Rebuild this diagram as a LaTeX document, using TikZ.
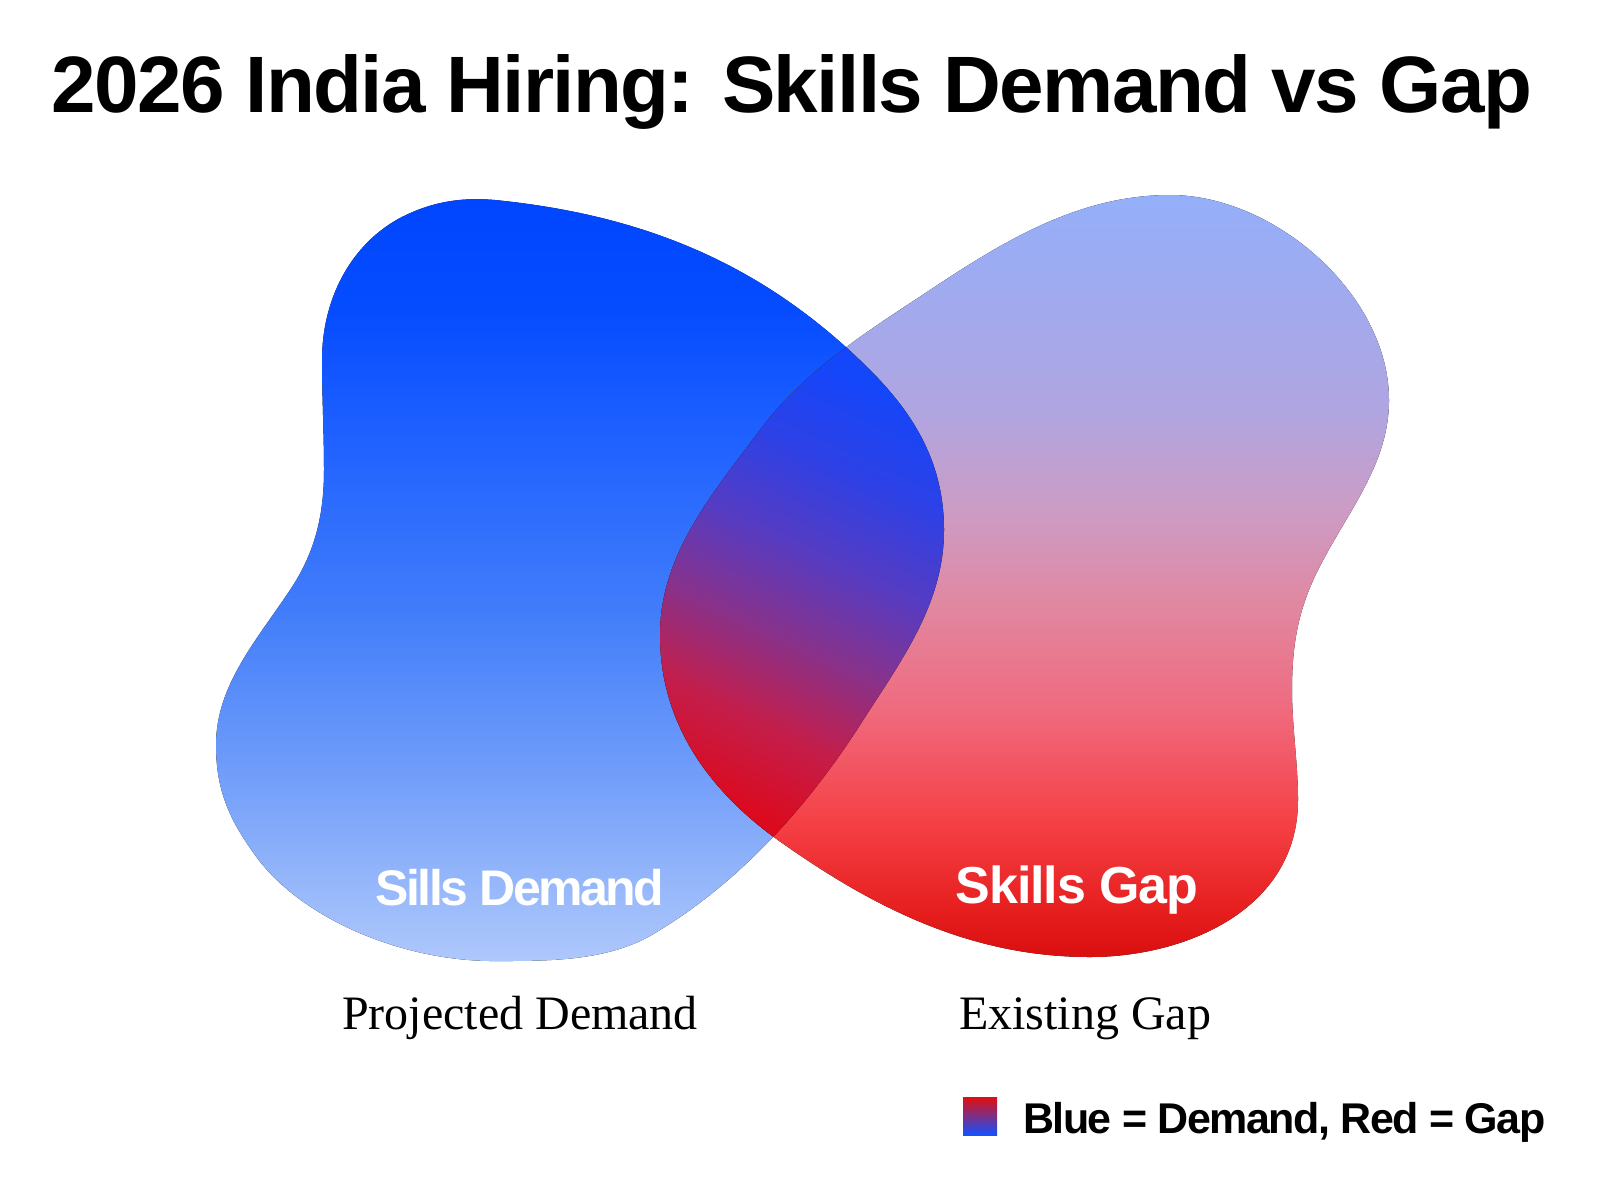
\documentclass[tikz,border=0pt]{standalone}
\usepackage{fontspec}
\setmainfont{Liberation Sans}
\newfontfamily\labelserif{Liberation Serif}
\usepackage{tikz}
\usetikzlibrary{positioning}

\definecolor{demtop}{RGB}{0,70,255}
\definecolor{demA}{RGB}{5,75,255}
\definecolor{demB}{RGB}{35,100,255}
\definecolor{demC}{RGB}{65,125,250}
\definecolor{demD}{RGB}{110,155,250}
\definecolor{demE}{RGB}{145,180,250}
\definecolor{dembot}{RGB}{175,200,252}
\definecolor{gaptop}{RGB}{148,175,250}
\definecolor{gapA}{RGB}{175,165,225}
\definecolor{gapB}{RGB}{205,155,195}
\definecolor{gapC}{RGB}{225,135,160}
\definecolor{gapD}{RGB}{240,105,125}
\definecolor{gapE}{RGB}{245,65,70}
\definecolor{gapF}{RGB}{230,30,30}
\definecolor{gapbot}{RGB}{218,15,15}
\definecolor{mixtop}{RGB}{20,70,250}
\definecolor{mixA}{RGB}{45,65,230}
\definecolor{mixB}{RGB}{85,60,195}
\definecolor{mixC}{RGB}{135,50,140}
\definecolor{mixD}{RGB}{195,30,75}
\definecolor{mixbot}{RGB}{220,10,30}
\definecolor{keyred}{RGB}{225,15,15}
\definecolor{keyblue}{RGB}{20,80,255}

\pgfdeclareverticalshading{demandshade}{100bp}{color(0bp)=(dembot); color(25bp)=(dembot);
  color(31bp)=(demE); color(38bp)=(demD); color(48bp)=(demC); color(58bp)=(demB);
  color(68bp)=(demA); color(75bp)=(demtop); color(100bp)=(demtop)}
\pgfdeclareverticalshading{gapshade}{100bp}{color(0bp)=(gapbot); color(25bp)=(gapbot);
  color(28bp)=(gapF); color(34bp)=(gapE); color(41bp)=(gapD); color(48bp)=(gapC);
  color(54bp)=(gapB); color(61bp)=(gapA); color(75bp)=(gaptop); color(100bp)=(gaptop)}
\pgfdeclareverticalshading{overlapshade}{100bp}{color(0bp)=(mixbot); color(25bp)=(mixbot);
  color(35bp)=(mixD); color(45bp)=(mixC); color(55bp)=(mixB); color(65bp)=(mixA);
  color(75bp)=(mixtop); color(100bp)=(mixtop)}

% blob outlines
\newcommand\demandblob{(495,200)
  .. controls (644,215) and (764,264) .. (870,370)
  .. controls (916,416) and (944,465) .. (944,530)
  .. controls (944,605) and (900,662) .. (860,725)
  .. controls (806,809) and (736,886) .. (650,936)
  .. controls (603,962) and (545,961) .. (490,961)
  .. controls (400,960) and (300,918) .. (255,855)
  .. controls (229,819) and (216,790) .. (216,745)
  .. controls (216,685) and (257,640) .. (290,590)
  .. controls (315,553) and (324,515) .. (324,470)
  .. controls (324,433) and (322,397) .. (322,360)
  .. controls (322,300) and (350,245) .. (400,218)
  .. controls (431,202) and (460,197) .. (495,200) -- cycle}
\newcommand\gapblob{(1170,195)
  .. controls (1275,195) and (1389,295) .. (1389,400)
  .. controls (1389,465) and (1347,512) .. (1318,570)
  .. controls (1298,610) and (1292,645) .. (1292,690)
  .. controls (1292,727) and (1298,763) .. (1298,800)
  .. controls (1298,910) and (1185,957) .. (1090,957)
  .. controls (975,957) and (879,911) .. (785,845)
  .. controls (711,794) and (660,725) .. (660,635)
  .. controls (660,555) and (712,494) .. (760,430)
  .. controls (805,370) and (868,331) .. (930,290)
  .. controls (1005,240) and (1080,195) .. (1170,195) -- cycle}

\tikzset{
  headline/.style={font=\bfseries\fontsize{40}{44}\selectfont\addfontfeatures{LetterSpace=-2}, anchor=base},
  blobtext/.style={text=white, font=\bfseries\fontsize{26}{30}\selectfont\addfontfeatures{LetterSpace=-2}, anchor=base},
  captext/.style={font=\labelserif\fontsize{24}{28}\selectfont, anchor=base},
  keytext/.style={font=\bfseries\fontsize{21.5}{26}\selectfont\addfontfeatures{LetterSpace=-3.5}, anchor=base west},
}

\begin{document}
\begin{tikzpicture}[x=0.5pt, y=-0.5pt]
  \fill[white] (0,0) rectangle (1600,1200);
  \useasboundingbox (0,0) rectangle (1600,1200);

  % title
  \node[headline] (title) at (792,112) {2026 India Hiring: Skills Demand vs Gap};

  % the two blobs
  \fill[shading=demandshade] \demandblob;
  \fill[shading=gapshade] \gapblob;

  % overlap
  \begin{scope}
    \clip \demandblob;
    \clip \gapblob;
    \fill[shading=overlapshade, shading angle=-25] (655,340) rectangle (950,850);
  \end{scope}

  \node[blobtext, font=\bfseries\fontsize{25}{30}\selectfont\addfontfeatures{LetterSpace=-5}] (demand) at (520,905) {Sills Demand};
  \node[blobtext] (gap) at (1077,903) {Skills Gap};

  \node[captext] (projected) at (520,1029) {Projected Demand};
  \node[captext] (existing) at (1085,1029) {Existing Gap};

  % legend
  \fill[top color=keyred, bottom color=keyblue] (963,1097) rectangle (997,1135);
  \node[keytext] (key) at (1016,1133) {Blue = Demand, Red = Gap};
\end{tikzpicture}
\end{document}
